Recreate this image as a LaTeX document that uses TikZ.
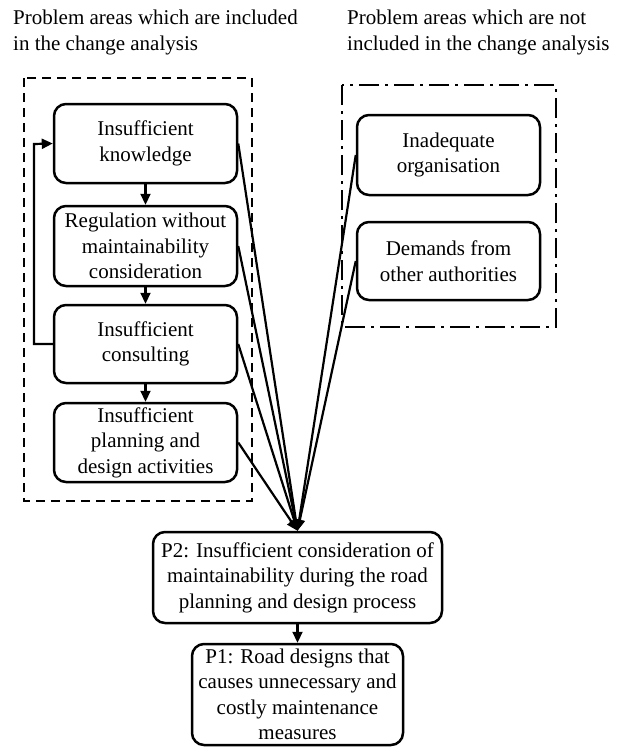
\documentclass[tikz,border=0pt]{standalone}
\usepackage{fontspec}
\setmainfont{Liberation Serif}
\usetikzlibrary{arrows.meta}

\tikzset{
  box/.style={draw, line width=2.5pt, rounded corners=12pt, inner sep=0pt,
    align=center, font=\fontsize{21}{25.5}\selectfont},
  heading/.style={inner sep=0pt, align=left, anchor=base west,
    font=\fontsize{21}{25.5}\selectfont},
  flow/.style={line width=2.2pt, -{Triangle[length=11pt,width=10pt]}},
  incframe/.style={line width=2.5pt, dash pattern=on 9pt off 6pt},
  excframe/.style={line width=2.5pt, dash pattern=on 20pt off 6pt on 3pt off 6pt},
}

\begin{document}
\begin{tikzpicture}[x=1pt, y=-1pt]
\useasboundingbox (0,0) rectangle (616,747);

% headings (base anchor sits on the last line)
\node[heading] (hin) at (13,50) {Problem areas which are included\\in the change analysis};
\node[heading] (hout) at (347,50) {Problem areas which are not\\included in the change analysis};

% frames around the two groups
\draw[incframe] (24,78) rectangle (252,501);
\draw[excframe] (342,85) rectangle (556,327);

% problem areas inside the analysis
\node[box, minimum width=183pt, minimum height=79pt] (know) at (145.5,143.5) {Insufficient\\knowledge};
\node[box, minimum width=183pt, minimum height=80pt] (reg) at (145.5,246) {Regulation without\\maintainability\\consideration};
\node[box, minimum width=183pt, minimum height=78pt] (cons) at (145.5,344) {Insufficient\\consulting};
\node[box, minimum width=183pt, minimum height=79pt] (plan) at (145.5,442.5) {Insufficient\\planning and\\design activities};

% problem areas outside the analysis
\node[box, minimum width=183pt, minimum height=80pt] (org) at (448.5,155) {Inadequate\\organisation};
\node[box, minimum width=183pt, minimum height=78pt] (dem) at (448.5,261) {Demands from\\other authorities};

% resulting problems
\node[box, minimum width=289pt, minimum height=91pt] (p2) at (297.5,577.5) {P2: Insufficient consideration of\\maintainability during the road\\planning and design process};
\node[box, minimum width=211pt, minimum height=101pt] (p1) at (297.5,694.5) {P1: Road designs that\\causes unnecessary and\\costly maintenance\\measures};

% chain inside the left group
\draw[flow] (know) -- (reg);
\draw[flow] (reg) -- (cons);
\draw[flow] (cons) -- (plan);
\coordinate (fbA) at (34,344);
\coordinate (fbB) at (34,144);
\draw[flow] (cons.west) -- (fbA) -- (fbB) -- (know.west);

% all problem areas lead to P2
\draw[flow] (know.east) -- (p2.north);
\draw[flow] (reg.east) -- (p2.north);
\draw[flow] (cons.east) -- (p2.north);
\draw[flow] (plan.east) -- (p2.north);
\draw[flow] (org.west) -- (p2.north);
\draw[flow] (dem.west) -- (p2.north);

% P2 leads to P1
\draw[flow] (p2) -- (p1);
\end{tikzpicture}
\end{document}
